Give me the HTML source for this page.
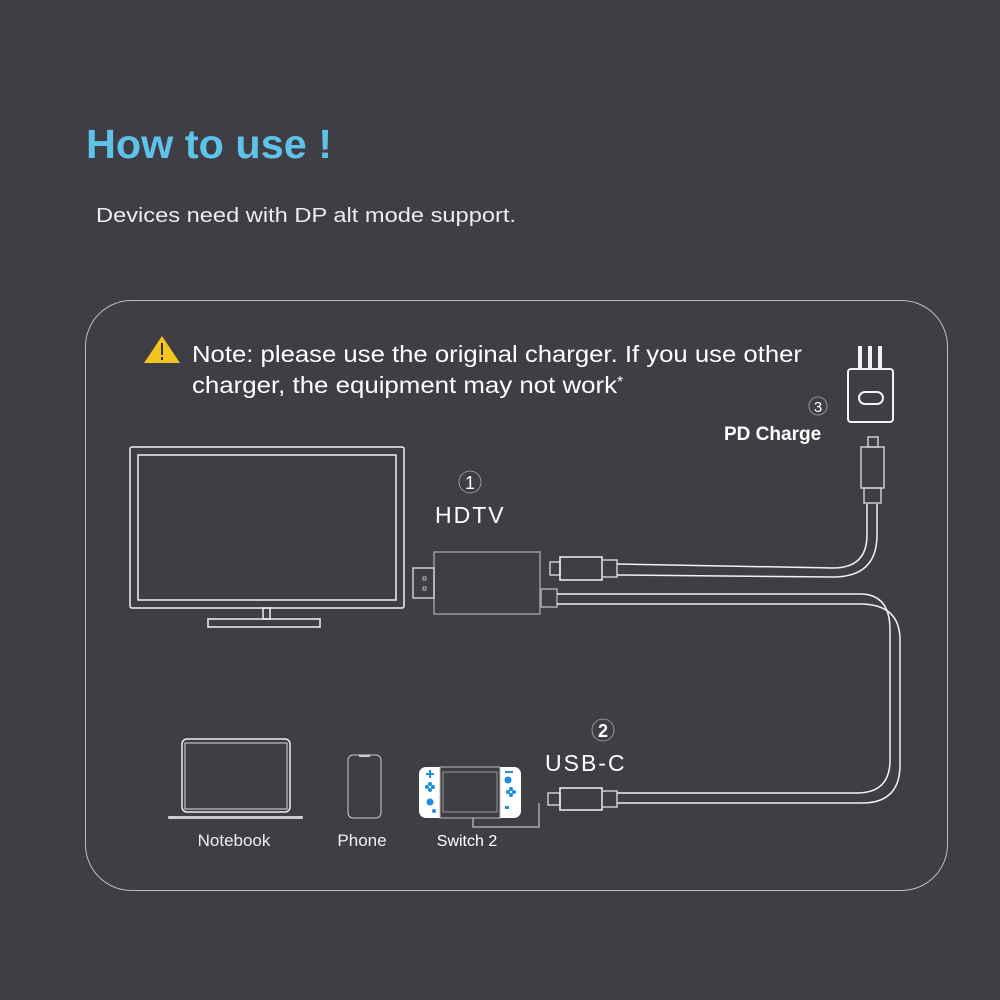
<!DOCTYPE html>
<html><head><meta charset="utf-8"><style>
html,body{margin:0;padding:0;background:#3f3e44;}
svg{display:block}
text{font-family:"Liberation Sans",sans-serif;}
</style></head><body>
<svg width="1000" height="1000" viewBox="0 0 1000 1000" xmlns="http://www.w3.org/2000/svg">
<rect width="1000" height="1000" fill="#3f3e44"/>
<text x="86" y="158" font-size="41" font-weight="bold" fill="#5ec2ea" textLength="246" lengthAdjust="spacingAndGlyphs">How to use !</text>
<text x="96" y="222" font-size="20" fill="#ececec" textLength="420" lengthAdjust="spacingAndGlyphs">Devices need  with DP alt mode support.</text>

<rect x="85.5" y="300.5" width="862" height="590" rx="46" fill="none" stroke="#bdbdbd" stroke-width="1"/>

<polygon points="162,336 180,363 144,363" fill="#f3c320"/>
<rect x="161" y="343" width="2" height="12" fill="#333"/>
<rect x="161" y="357" width="2" height="3" fill="#333"/>
<text x="192" y="362" font-size="23" fill="#fff" textLength="610" lengthAdjust="spacingAndGlyphs">Note: please use the original charger. If you use other</text>
<text x="192" y="393" font-size="23" fill="#fff" textLength="425" lengthAdjust="spacingAndGlyphs">charger, the equipment may not work</text>
<text x="617" y="387" font-size="16" fill="#fff">*</text>

<g fill="none" stroke="#f2f2f2" stroke-width="1.5">
<!-- TV -->
<rect x="130" y="447" width="274" height="161" rx="2"/>
<rect x="138" y="455" width="258" height="145"/>
<rect x="263" y="608" width="7" height="11"/>
<rect x="208" y="619" width="112" height="8"/>
<!-- adapter -->
<rect x="434" y="552" width="106" height="62" stroke="#9a9a9a"/>
<rect x="413" y="568" width="21" height="30" stroke="#ccc"/>
<rect x="541" y="589" width="16" height="18" stroke="#aaa"/>
<!-- top USB-C -->
<rect x="550" y="562" width="10" height="13" stroke="#ccc"/>
<rect x="560" y="557" width="42" height="23"/>
<rect x="602" y="560" width="15" height="17" stroke="#ccc"/>
<path d="M617 564 L833 568 Q867 568 867 535 L867 504"/>
<path d="M617 575 L833 577 Q877 577 877 535 L877 504"/>
<rect x="864" y="488" width="17" height="15" stroke="#ccc"/>
<rect x="861" y="447" width="23" height="41" stroke="#ccc"/>
<rect x="868" y="437" width="10" height="10" stroke="#ccc"/>
<!-- bottom cable -->
<path d="M557 594 L860 594 Q890 594 890 630 L890 760 Q890 793 857 793 L617 793"/>
<path d="M557 604 L860 604 Q900 604 900 640 L900 765 Q900 803 862 803 L617 803"/>
<rect x="548" y="793" width="12" height="12" stroke="#ccc"/>
<rect x="560" y="788" width="42" height="22"/>
<rect x="602" y="791" width="15" height="16" stroke="#ccc"/>
<!-- charger -->
<rect x="848" y="369" width="45" height="53" rx="3" stroke-width="2"/>
<rect x="859" y="392" width="24" height="12" rx="6" stroke-width="2"/>
</g>
<rect x="858" y="346" width="4" height="23" fill="#f2f2f2"/>
<rect x="868" y="346" width="4" height="23" fill="#f2f2f2"/>
<rect x="878" y="346" width="4" height="23" fill="#f2f2f2"/>
<!-- HDMI plug detail -->
<rect x="423" y="577" width="3" height="3" fill="none" stroke="#ccc" stroke-width="0.8"/>
<rect x="423" y="587" width="3" height="3" fill="none" stroke="#ccc" stroke-width="0.8"/>

<!-- labels -->
<circle cx="818" cy="406" r="9" fill="none" stroke="#aaa" stroke-width="0.8"/>
<text x="818" y="412" font-size="15" fill="#fff" text-anchor="middle">3</text>
<text x="724" y="440" font-size="19" font-weight="bold" fill="#fff">PD Charge</text>
<circle cx="470" cy="482" r="11" fill="none" stroke="#aaa" stroke-width="0.8"/>
<text x="470" y="489" font-size="18" fill="#fff" text-anchor="middle">1</text>
<text x="435" y="523" font-size="23" fill="#fff" letter-spacing="2">HDTV</text>
<circle cx="603" cy="730" r="11" fill="none" stroke="#aaa" stroke-width="0.8"/>
<text x="603" y="737" font-size="18" font-weight="bold" fill="#fff" text-anchor="middle">2</text>
<text x="545" y="771" font-size="23" fill="#fff" letter-spacing="2">USB-C</text>

<!-- notebook -->
<rect x="182" y="739" width="108" height="73" rx="5" fill="none" stroke="#eee" stroke-width="1.5"/>
<rect x="185" y="743" width="102" height="66" fill="none" stroke="#ddd" stroke-width="1"/>
<rect x="168" y="816" width="135" height="3" rx="1" fill="#ccc"/>
<text x="234" y="846" font-size="17" fill="#eee" text-anchor="middle">Notebook</text>
<!-- phone -->
<rect x="348" y="755" width="33" height="63" rx="5" fill="none" stroke="#ccc" stroke-width="1"/>
<rect x="359" y="755" width="11" height="2" fill="#ccc"/>
<text x="362" y="846" font-size="17" fill="#eee" text-anchor="middle">Phone</text>
<!-- switch -->
<rect x="419" y="767" width="102" height="51" rx="7" fill="#fff"/>
<rect x="440" y="767" width="60" height="51" fill="#3f3e44" stroke="#bbb" stroke-width="1"/>
<rect x="443" y="772" width="54" height="40" fill="none" stroke="#999" stroke-width="1"/>
<g fill="#1d8fe0">
<rect x="426" y="773" width="8" height="2"/><rect x="429" y="770" width="2" height="8"/>
<circle cx="427" cy="787" r="2"/><circle cx="433" cy="787" r="2"/><circle cx="430" cy="784" r="2"/><circle cx="430" cy="790" r="2"/>
<circle cx="430" cy="802" r="3.5"/><circle cx="434" cy="811" r="2"/>
<rect x="505" y="771" width="8" height="2"/>
<circle cx="508" cy="780" r="3.5"/>
<circle cx="508" cy="792" r="2"/><circle cx="514" cy="792" r="2"/><circle cx="511" cy="789" r="2"/><circle cx="511" cy="795" r="2"/>
<rect x="505" y="806" width="4" height="3"/>
</g>
<polyline points="473,818 473,827 539,827 539,803" fill="none" stroke="#ddd" stroke-width="1"/>
<text x="467" y="846" font-size="16" fill="#fff" text-anchor="middle">Switch 2</text>
</svg>
</body></html>
